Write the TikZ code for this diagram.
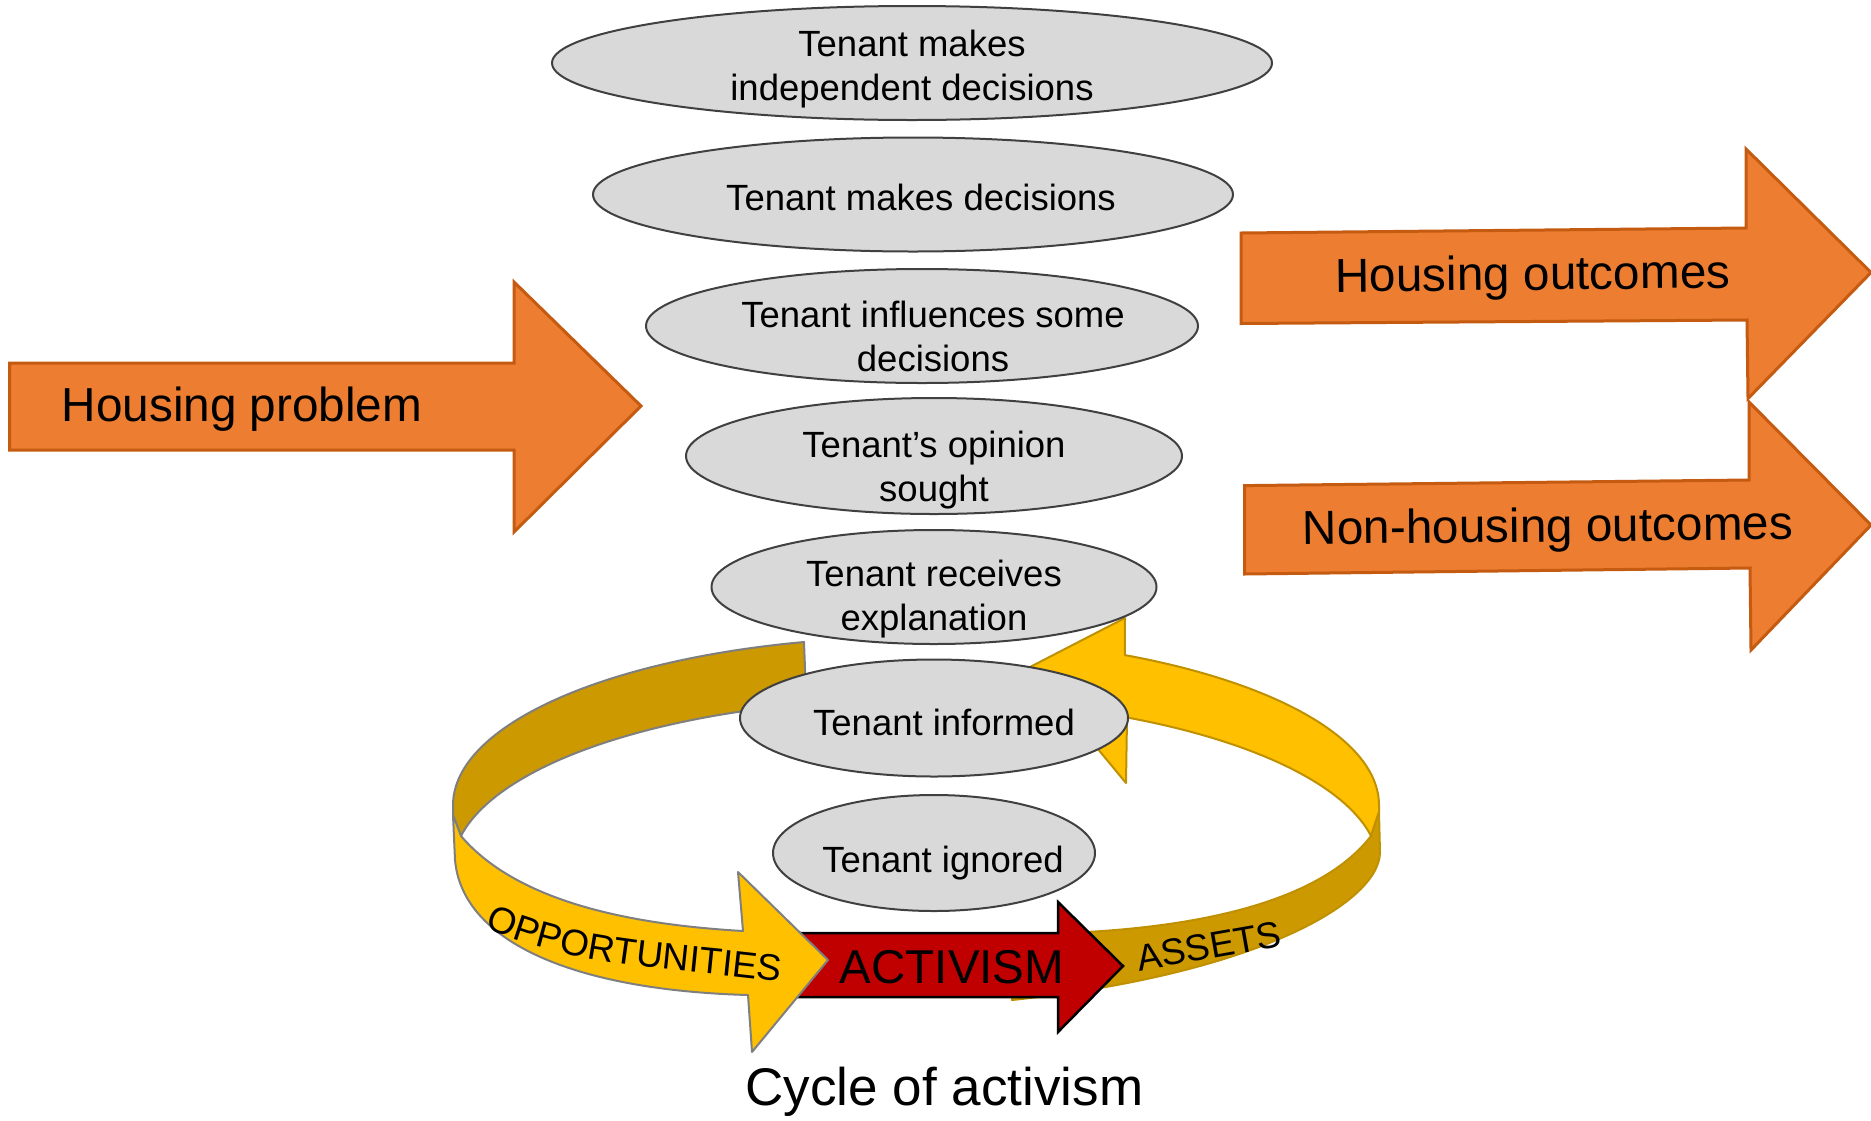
\documentclass[tikz,border=0pt]{standalone}
\usepackage{fontspec}
\setmainfont{Liberation Sans}
\usetikzlibrary{shapes.geometric,decorations.text}
\definecolor{orangefill}{HTML}{ED7D31}
\definecolor{orangeline}{HTML}{C55A11}
\definecolor{ellfill}{HTML}{D9D9D9}
\definecolor{ellline}{HTML}{404040}
\definecolor{goldfill}{HTML}{FFC000}
\definecolor{darkgold}{HTML}{CC9900}
\definecolor{goldline}{HTML}{BF9000}
\definecolor{grayline}{HTML}{7F7F7F}
\definecolor{redfill}{HTML}{C00000}
\newcommand{\ts}{\rule[-8pt]{0pt}{35pt}}
\newcommand{\oppfont}{\fontsize{37pt}{40pt}\selectfont}
\begin{document}
\begin{tikzpicture}[x=1pt,y=-1pt,
  tellipse/.style={ellipse,draw=ellline,fill=ellfill,line width=2pt,inner sep=0pt},
  ttext/.style={font=\fontsize{36.5pt}{44pt}\selectfont,align=center,inner sep=0pt},
  bigtext/.style={font=\fontsize{47.7pt}{52pt}\selectfont,inner sep=0pt,anchor=base},
  orangearrow/.style={fill=orangefill,draw=orangeline,line width=3pt,line join=miter},
  bandgray/.style={draw=grayline,line width=2pt,line join=round},
  bandgold/.style={draw=goldline,line width=2pt,line join=round},
  redarrow/.style={fill=redfill,draw=black,line width=2.5pt,line join=miter}]
\useasboundingbox (0,0) rectangle (1871,1120);

% ---- orange arrows
\draw[orangearrow] (9.5,363) -- (514,363) -- (514,282) -- (641,406) -- (514,532) -- (514,450) -- (9.5,450) -- cycle;
\node[bigtext] (hp) at (242,421) {Housing problem};
\draw[orangearrow] (1241,233) -- (1746,228) -- (1746,149) -- (1871,272.5) -- (1748,398.5) -- (1747,320) -- (1241,323.5) -- cycle;
\node[bigtext,rotate=0.6] (ho) at (1533,290) {Housing outcomes};
\draw[orangearrow] (1244.5,485.6) -- (1749,480) -- (1749,402) -- (1871,525) -- (1751,650) -- (1750,568) -- (1244.5,574) -- cycle;
\node[bigtext,rotate=0.6] (nho) at (1548,542) {Non-housing outcomes};

% ---- cycle ring: back-left dark band
\path[bandgray,fill=darkgold]
  plot[domain=256:180,samples=60,variable=\q] ({916+463*cos(\q)},{805+168*sin(\q)})
  -- (453,815) -- (461,836)
  -- plot[domain=190.6:256.3,samples=60,variable=\q] ({916+463*cos(\q)},{867+168*sin(\q)})
  -- cycle;
% back-right yellow band with head
\path[bandgold,fill=goldfill]
  (1125,618) -- (1030,667) -- (1126,783) -- (1127,718)
  -- plot[domain=-62.9:-10.6,samples=60,variable=\q] ({916+463*cos(\q)},{867+168*sin(\q)})
  -- (1379,812) -- (1379,805)
  -- plot[domain=0:-63.2,samples=60,variable=\q] ({916+463*cos(\q)},{805+168*sin(\q)})
  -- cycle;
% front-right dark band (assets)
\path[bandgold,fill=darkgold]
  (1012,934) .. controls (1150,934) and (1310,915) .. (1371,836)
  -- (1379,812) -- (1380,853)
  .. controls (1378,905) and (1250,975) .. (1012,1000) -- cycle;
\node[font=\oppfont,inner sep=0pt,rotate=10] (assets) at (1209,946) {ASSETS};
% activism arrow
\draw[redarrow] (790,933) -- (1058,933) -- (1058,902) -- (1123,966) -- (1058,1032) -- (1058,997) -- (790,997) -- cycle;
\node[bigtext,font=\fontsize{47.5pt}{52pt}\selectfont] (act) at (952,983) {ACTIVISM};
% front-left yellow band with head
\path[bandgray,fill=goldfill]
  (453,815) -- (455,860) .. controls (462,940) and (570,990) .. (748,995)
  -- (752,1052) -- (828,960) -- (738,872) -- (743,931)
  .. controls (640,925) and (520,905) .. (461,836) -- cycle;
\coordinate (op0) at (485,927);
\coordinate (op1) at (576,969);
\coordinate (op2) at (681,968);
\coordinate (op3) at (780,982);
\path[decorate,decoration={text along path,text align=center,text={|\oppfont|OPPORTUNITIES}}]
  (op0) .. controls (op1) and (op2) .. (op3);

% ---- ladder ellipses
\node[tellipse,minimum width=720pt,minimum height=114pt] (e1) at (912,63) {};
\node[ttext] (t1) at (912,68.5) {\ts Tenant makes\\\ts independent decisions};
\node[tellipse,minimum width=640pt,minimum height=114pt] (e2) at (913,194.5) {};
\node[ttext] (t2) at (921,200.5) {\ts Tenant makes decisions};
\node[tellipse,minimum width=552pt,minimum height=114pt] (e3) at (922,326) {};
\node[ttext] (t3) at (933,340) {\ts Tenant influences some\\\ts decisions};
\node[tellipse,minimum width=496pt,minimum height=116pt] (e4) at (934,456) {};
\node[ttext] (t4) at (934,470) {\ts Tenant’s opinion\\\ts sought};
\node[tellipse,minimum width=445pt,minimum height=114pt] (e5) at (934,587) {};
\node[ttext] (t5) at (934,599) {\ts Tenant receives\\\ts explanation};
\node[tellipse,minimum width=388pt,minimum height=117pt] (e6) at (934,718) {};
\node[ttext] (t6) at (944,725.5) {\ts Tenant informed};
\node[tellipse,minimum width=322pt,minimum height=116pt] (e7) at (934,853) {};
\node[ttext] (t7) at (943,862.5) {\ts Tenant ignored};

% ---- caption
\node[bigtext,font=\fontsize{53pt}{58pt}\selectfont] (cap) at (944.5,1105) {Cycle of activism};
\end{tikzpicture}
\end{document}
